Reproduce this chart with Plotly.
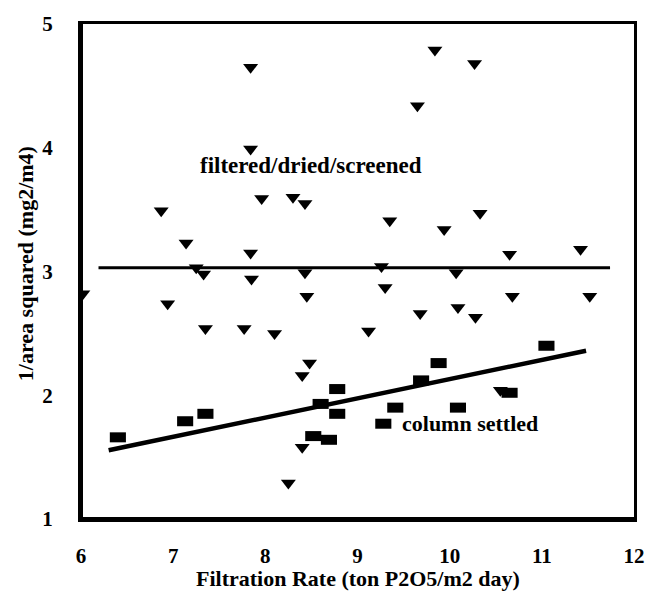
import plotly.graph_objects as go

# filtered/dried/screened (triangles)
fds_x = [6.87, 7.14, 7.25, 7.33, 7.84, 7.84, 7.84, 7.85, 7.96, 8.30, 8.43, 8.43, 8.45,
         9.84, 10.27, 9.65, 9.35, 9.94, 10.33, 10.65, 11.42, 9.26, 10.07, 9.30, 10.68,
         11.52, 6.94, 7.35, 7.77, 8.10, 8.48, 8.40, 8.40, 8.25, 9.68, 10.09, 10.28, 9.12,
         10.55, 6.02]
fds_y = [3.49, 3.23, 3.03, 2.98, 4.65, 3.99, 3.15, 2.94, 3.59, 3.60, 3.55, 2.99, 2.80,
         4.79, 4.68, 4.34, 3.41, 3.34, 3.47, 3.14, 3.18, 3.04, 2.99, 2.87, 2.80,
         2.80, 2.74, 2.54, 2.54, 2.50, 2.26, 2.16, 1.58, 1.29, 2.66, 2.71, 2.63, 2.52,
         2.04, 2.82]

# column settled (bars)
cs_x = [6.40, 7.13, 7.35, 8.60, 8.52, 8.69, 8.78, 8.78, 9.28, 9.41, 9.69, 9.88, 10.09, 10.65, 11.05]
cs_y = [1.66, 1.79, 1.85, 1.93, 1.67, 1.64, 2.05, 1.85, 1.77, 1.90, 2.12, 2.26, 1.90, 2.02, 2.40]

# fit lines
fit1_x = [6.19, 11.74]
fit1_y = [3.03, 3.03]
fit2_x = [6.30, 11.48]
fit2_y = [1.555, 2.36]

x_range = [6, 12]
y_range = [1, 5]
x_ticks = [6, 7, 8, 9, 10, 11, 12]
y_ticks = [1, 2, 3, 4, 5]

FONT = "Liberation Serif"
W, H = 657, 593
L, R, T, B = 81, 12, 22, 74
PW, PH = W - L - R, H - T - B

fig = go.Figure()
fig.add_trace(go.Scatter(x=fit1_x, y=fit1_y, mode="lines",
                         line=dict(color="black", width=3), showlegend=False))
fig.add_trace(go.Scatter(x=fit2_x, y=fit2_y, mode="lines",
                         line=dict(color="black", width=4.5), showlegend=False))
fig.add_trace(go.Scatter(x=fds_x, y=fds_y, mode="markers",
                         marker=dict(symbol="triangle-down", size=13, color="black"),
                         showlegend=False))
fig.add_trace(go.Scatter(x=cs_x, y=cs_y, mode="markers",
                         marker=dict(symbol="line-ew", size=11.5, color="black",
                                     line=dict(width=10, color="black")),
                         showlegend=False))

fig.add_annotation(x=8.50, y=3.86, text="<b>filtered/dried/screened</b>", showarrow=False,
                   font=dict(family=FONT, size=23, color="black"))
fig.add_annotation(x=10.22, y=1.77, text="<b>column settled</b>", showarrow=False,
                   font=dict(family=FONT, size=22, color="black"))

# axis titles
fig.add_annotation(xref="paper", yref="paper", x=(363 - L) / PW, y=(H - B - 579) / PH,
                   xanchor="center", yanchor="middle",
                   text="<b>Filtration Rate (ton P2O5/m2 day)</b>", showarrow=False,
                   font=dict(family=FONT, size=22, color="black"))
fig.add_annotation(xref="paper", yref="paper", x=(24 - L) / PW, y=(H - B - 263) / PH,
                   xanchor="center", yanchor="middle",
                   text="<b>1/area squared (mg2/m4)</b>", showarrow=False, textangle=-90,
                   font=dict(family=FONT, size=22, color="black"))

# heavier left and bottom edges
fig.add_shape(type="line", xref="paper", yref="paper", x0=0, y0=0, x1=0, y1=1,
              line=dict(color="black", width=4), layer="above")
fig.add_shape(type="line", xref="paper", yref="paper", x0=0, y0=0, x1=1, y1=0,
              line=dict(color="black", width=4), layer="above")

fig.update_layout(
    width=W, height=H,
    margin=dict(l=L, r=R, t=T, b=B),
    plot_bgcolor="white",
    font=dict(family=FONT),
)
fig.update_xaxes(range=x_range, tickvals=x_ticks,
                 ticktext=["<b>%d</b>" % v for v in x_ticks],
                 showgrid=False, zeroline=False,
                 showline=True, mirror=True, linewidth=3, linecolor="black",
                 ticks="outside", ticklen=16, tickcolor="white",
                 tickfont=dict(family=FONT, size=21, color="black"))
fig.update_yaxes(range=y_range, tickvals=y_ticks,
                 ticktext=["<b>%d</b>" % v for v in y_ticks],
                 showgrid=False, zeroline=False,
                 showline=True, mirror=True, linewidth=3, linecolor="black",
                 ticks="outside", ticklen=21, tickcolor="white",
                 tickfont=dict(family=FONT, size=21, color="black"))

fig.write_html("out.html")
